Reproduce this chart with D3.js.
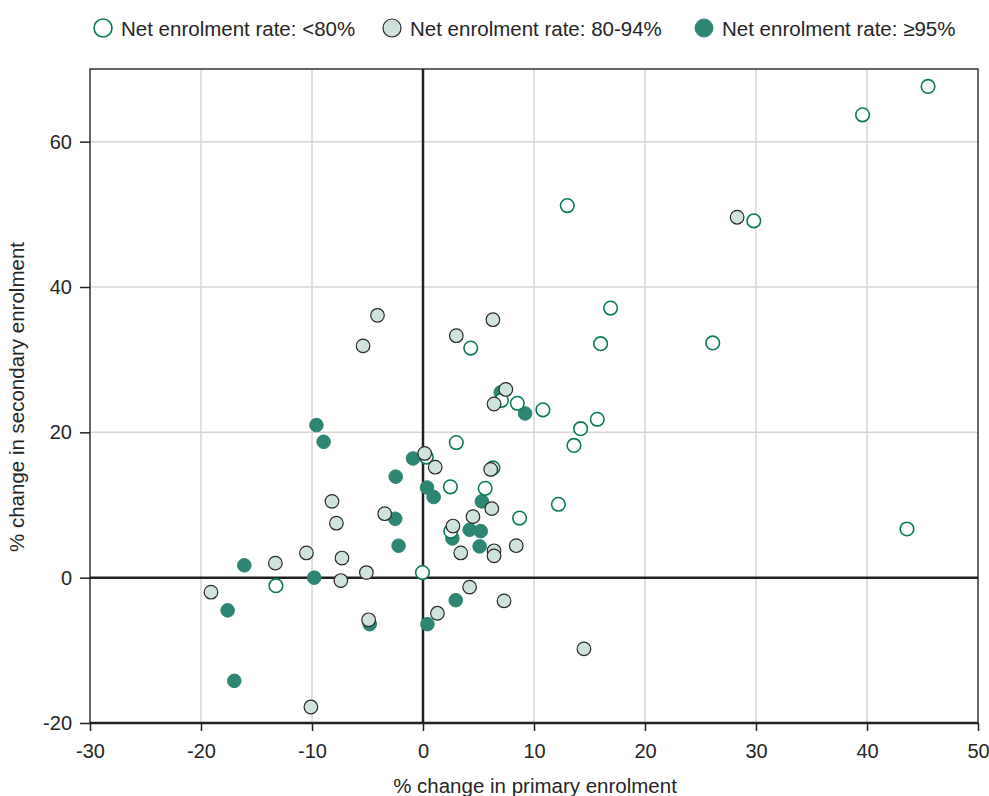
<!DOCTYPE html>
<html><head><meta charset="utf-8">
<script src="https://cdn.jsdelivr.net/npm/d3@7"></script>
<style>body{margin:0;background:#fff;font-family:"Liberation Sans",Arial,sans-serif;}</style>
</head><body><svg id="c" width="989" height="796"></svg>
<script>
const xTicks = [-30,-20,-10,0,10,20,30,40,50];
const yTicks = [-20,0,20,40,60];
const seriesNames = ["Net enrolment rate: <80%","Net enrolment rate: 80-94%","Net enrolment rate: \u226595%"];
const highX = [-9.6,-8.95,-0.9,-2.46,0.36,0.96,-2.5,-2.2,-16.1,-9.8,-17.6,-4.8,-17.0,0.4,2.95,2.65,4.2,5.2,5.1,5.3,9.2,7.0];
const highY = [21.0,18.7,16.4,13.9,12.4,11.1,8.1,4.4,1.7,0.0,-4.5,-6.4,-14.2,-6.4,-3.1,5.4,6.6,6.4,4.3,10.5,22.6,25.5];
const lowX = [45.5,39.6,13.0,29.8,16.9,16.0,26.1,4.3,7.07,8.5,10.8,15.7,14.2,13.6,3.0,0.3,6.3,2.47,5.6,8.7,2.5,12.2,43.6,-0.05,-13.25];
const lowY = [67.6,63.7,51.2,49.1,37.1,32.2,32.3,31.6,24.4,24.0,23.1,21.8,20.5,18.2,18.6,16.6,15.1,12.5,12.3,8.2,6.4,10.1,6.7,0.7,-1.1];
const midX = [-4.1,-5.4,3.0,6.3,7.46,6.4,28.3,0.15,1.1,6.1,6.2,4.5,2.7,3.4,6.4,6.4,8.4,4.2,7.3,1.3,14.5,-8.2,-7.8,-3.45,-10.5,-7.3,-13.3,-7.4,-5.1,-19.1,-4.9,-10.1];
const midY = [36.1,31.9,33.3,35.5,25.9,23.9,49.6,17.1,15.2,14.9,9.5,8.4,7.1,3.4,3.7,3.0,4.4,-1.3,-3.2,-4.9,-9.8,10.5,7.5,8.8,3.4,2.7,2.0,-0.4,0.7,-2.0,-5.8,-17.8];

const svg = d3.select("#c");
const L=90,R=978,T=69,B=723;
const x = d3.scaleLinear().domain([-30,50]).range([L,R]);
const y = d3.scaleLinear().domain([-20,70]).range([B,T]);
const GREEN="#2e8672", OPENSTROKE="#0b7a5c", GREY="#cfe2dc";
const TXT="#262626";
const styles = [
  {fill:"#fff",stroke:OPENSTROKE,sw:1.6},
  {fill:GREY,stroke:"#2a2a2a",sw:1.2},
  {fill:GREEN,stroke:GREEN,sw:1}
];
// grid
const g = svg.append("g");
g.selectAll(".vg").data(xTicks.filter(d=>d>-30&&d<50&&d!==0)).enter().append("line")
 .attr("x1",d=>x(d)).attr("x2",d=>x(d)).attr("y1",T).attr("y2",B).attr("stroke","#d6d6d6").attr("stroke-width",1.5);
g.selectAll(".hg").data(yTicks.filter(d=>d>-20&&d!==0)).enter().append("line")
 .attr("y1",d=>y(d)).attr("y2",d=>y(d)).attr("x1",L).attr("x2",R).attr("stroke","#d6d6d6").attr("stroke-width",1.5);
// frame
svg.append("rect").attr("x",L).attr("y",T).attr("width",R-L).attr("height",B-T).attr("fill","none").attr("stroke","#333").attr("stroke-width",1.5);
// zero lines
svg.append("line").attr("x1",x(0)).attr("x2",x(0)).attr("y1",T).attr("y2",B).attr("stroke","#222").attr("stroke-width",2.5);
svg.append("line").attr("x1",L).attr("x2",R).attr("y1",y(0)).attr("y2",y(0)).attr("stroke","#222").attr("stroke-width",2.5);
svg.append("line").attr("x1",L).attr("x2",R).attr("y1",B).attr("y2",B).attr("stroke","#222").attr("stroke-width",2.5);
// axes
const fmt = d=>String(d);
const xa = svg.append("g").attr("transform",`translate(0,${B})`)
 .call(d3.axisBottom(x).tickValues(xTicks).tickSize(8).tickPadding(13).tickFormat(fmt));
const ya = svg.append("g").attr("transform",`translate(${L},0)`)
 .call(d3.axisLeft(y).tickValues(yTicks).tickSize(10).tickPadding(8).tickFormat(fmt));
[xa,ya].forEach(a=>{
  a.select(".domain").remove();
  a.selectAll(".tick line").attr("stroke","#222").attr("stroke-width",1.5);
  a.selectAll(".tick text").attr("fill",TXT).style("font-size","20px").style("font-family","Liberation Sans, Arial, sans-serif");
});
// labels
svg.append("text").attr("x",535).attr("y",793).attr("text-anchor","middle").attr("fill",TXT)
 .style("font-size","20.5px").text("% change in primary enrolment");
svg.append("text").attr("transform","translate(24,397) rotate(-90)").attr("text-anchor","middle").attr("fill",TXT)
 .style("font-size","20.5px").text("% change in secondary enrolment");
// points: greens first, then open, then grey
const sets = [
  {xs:highX,ys:highY,s:styles[2]},
  {xs:lowX,ys:lowY,s:styles[0]},
  {xs:midX,ys:midY,s:styles[1]}
];
sets.forEach(set=>{
  svg.append("g").selectAll("circle").data(set.xs.map((v,i)=>[v,set.ys[i]])).enter().append("circle")
   .attr("cx",d=>x(d[0])).attr("cy",d=>y(d[1])).attr("r",6.8)
   .attr("fill",set.s.fill).attr("stroke",set.s.stroke).attr("stroke-width",set.s.sw);
});
// legend
const legX=[103,392,704];
const lg = svg.append("g");
seriesNames.forEach((n,i)=>{
  const s=styles[i];
  lg.append("circle").attr("cx",legX[i]).attr("cy",28).attr("r",9).attr("fill",s.fill).attr("stroke",s.stroke).attr("stroke-width",s.sw);
  lg.append("text").attr("x",legX[i]+18).attr("y",35.5).attr("fill",TXT).style("font-size","20.5px").text(n);
});
</script></body></html>
